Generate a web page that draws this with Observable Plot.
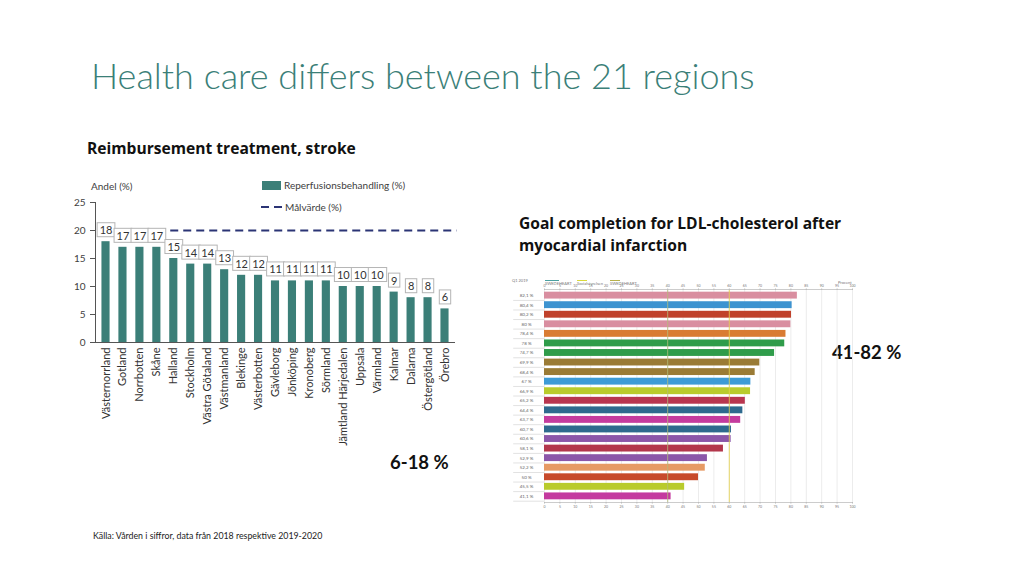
<!DOCTYPE html>
<html>
<head>
<meta charset="utf-8">
<script src="https://cdn.jsdelivr.net/npm/d3@7"></script>
<script src="https://cdn.jsdelivr.net/npm/@observablehq/plot@0.6"></script>
<style>
  html, body { margin: 0; padding: 0; background: #fff; }
  #page { position: relative; width: 1024px; height: 576px; overflow: hidden; background: #fff; font-family: Lato, "Open Sans", sans-serif; }
  .abs { position: absolute; white-space: nowrap; line-height: 1; }
  #title { left: 91px; top: 57px; font-size: 36px; color: #3b7f78; font-weight: 300; }
  .sub { font-family: "Open Sans", sans-serif; font-size: 15.6px; font-weight: 700; color: #111; }
  .big { font-size: 18.5px; font-weight: 700; color: #111; }
  #caption { left: 93px; top: 532px; font-size: 8.8px; color: #222; }
  .tiny { font-size: 4px; color: #777; }
  .leg { font-size: 10px; color: #404040; }
</style>
</head>
<body>
<div id="page">
  <div id="title" class="abs">Health care differs between the 21 regions</div>
  <div class="abs sub" style="left:87px; top:141px;">Reimbursement treatment, stroke</div>
  <div class="abs leg" style="left:91px; top:181px;">Andel (%)</div>
  <div class="abs leg" style="left:262px; top:180px;"><svg width="19" height="9" style="vertical-align:-1px;margin-right:3px"><rect width="19" height="9" fill="#3b7f78"/></svg>Reperfusionsbehandling (%)</div>
  <div class="abs leg" style="left:261px; top:202px;"><svg width="21" height="6" style="vertical-align:1px;margin-right:3px"><line x1="0" x2="21" y1="3" y2="3" stroke="#2b3475" stroke-width="2" stroke-dasharray="8,5"/></svg>Målvärde (%)</div>
  <div class="abs sub" style="left:519px; top:212px; line-height:22px;">Goal completion for LDL-cholesterol after<br>myocardial infarction</div>
  <div class="abs big" style="left:390px; top:453px;">6-18 %</div>
  <div class="abs big" style="left:832px; top:343px;">41-82 %</div>
  <div id="caption" class="abs">Källa: Vården i siffror, data från 2018 respektive 2019-2020</div>
  <div class="abs tiny" style="left:512px; top:279px;">Q1 2019</div>
  <div class="abs tiny" style="left:545px; top:280px;"><div style="width:14px;height:1px;background:#4aa0a0;margin-bottom:1px"></div>SWEDEHEART</div>
  <div class="abs tiny" style="left:577px; top:280px;"><div style="width:10px;height:1px;background:#d9d83a;margin-bottom:1px"></div>Socialstyrelsen</div>
  <div class="abs tiny" style="left:610px; top:280px;"><div style="width:10px;height:1px;background:#b7b04a;margin-bottom:1px"></div>SWEDEHEART</div>
  <div class="abs tiny" style="left:838px; top:281px;">Procent</div>
  <div id="left" style="position:absolute; left:60px; top:170px;"></div>
  <div id="right" style="position:absolute; left:505px; top:270px;"></div>
</div>
<script>
// ---- Left chart data: Reperfusionsbehandling (%) per region ----
const regions = ["Västernorrland","Gotland","Norrbotten","Skåne","Halland","Stockholm","Västra Götaland","Västmanland","Blekinge","Västerbotten","Gävleborg","Jönköping","Kronoberg","Sörmland","Jämtland Härjedalen","Uppsala","Värmland","Kalmar","Dalarna","Östergötland","Örebro"];
const reperfusion = [18,17,17,17,15,14,14,13,12,12,11,11,11,11,10,10,10,9,8,8,6];
const targetValue = 20;
const yTicks = [0,5,10,15,20,25];

// ---- Right chart data: LDL goal completion (%) ----
const ldlLabels = ["82,1 %","80,4 %","80,2 %","80 %","78,4 %","78 %","74,7 %","69,9 %","68,4 %","67 %","66,9 %","65,2 %","64,4 %","63,7 %","60,7 %","60,6 %","58,1 %","52,9 %","52,2 %","50 %","45,5 %","41,1 %"];
const ldlValues = [82.1,80.4,80.2,80,78.4,78,74.7,69.9,68.4,67,66.9,65.2,64.4,63.7,60.7,60.6,58.1,52.9,52.2,50,45.5,41.1];
const ldlColors = ["#d98ea0","#3d93d0","#c0412b","#d98ea0","#d97c33","#2f9c4a","#2f9c4a","#9a7b35","#9a7b35","#3d9bd6","#b9cb2c","#b8364f","#2e6a8e","#c43c9e","#2e6a8e","#8b57a9","#b3374c","#8b57a9","#e69a64","#c74a2b","#b9cb2c","#c43a9f"];
const ldlTicks = [0,5,10,15,20,25,30,35,40,45,50,55,60,65,70,75,80,85,90,95,100];
const ldlTargets = [40, 60];
const ldlTargetColors = ["#b3bd7a", "#e6d24a"];

const leftData = regions.map((r, i) => ({region: r, value: reperfusion[i]}));
const rightData = ldlLabels.map((l, i) => ({label: l, value: ldlValues[i], color: ldlColors[i]}));

const leftPlot = Plot.plot({
  width: 410, height: 290,
  marginLeft: 35, marginRight: 15, marginTop: 32, marginBottom: 118,
  style: {fontFamily: "Lato, 'Open Sans', sans-serif", fontSize: "10px", color: "#404040", background: "transparent", overflow: "visible"},
  x: {domain: regions, paddingInner: 0.52, paddingOuter: 0.38, round: false, label: null},
  y: {domain: [0, 25], label: null},
  marks: [
    Plot.barY(leftData, {x: "region", y: "value", fill: "#3b7f78"}),
    Plot.ruleY([{y: targetValue, a: regions[4], b: regions[regions.length - 1]}], {y: "y", x1: "a", x2: "b", stroke: "#2b3475", strokeWidth: 2, strokeDasharray: "8,5", insetLeft: 1, insetRight: -8}),
    Plot.ruleY([0], {stroke: "#555"}),
    Plot.frame({anchor: "left", stroke: "#555"}),
    Plot.axisY({ticks: yTicks, tickSize: 5, tickPadding: 5, fontSize: 10, label: null, stroke: "#555"}),
    Plot.axisX({tickSize: 0, tickPadding: 5, tickRotate: -90, fontSize: 11, label: null, fill: "#333"}),
    Plot.text(leftData, {x: "region", y: "value", text: d => String(d.value), dy: -11, fontSize: 11, fill: "#333", className: "vlabel"})
  ]
});
document.getElementById("left").appendChild(leftPlot);

// draw boxes behind value labels
leftPlot.querySelectorAll("g.vlabel text").forEach(t => {
  const bb = t.getBBox();
  const r = document.createElementNS("http://www.w3.org/2000/svg", "rect");
  r.setAttribute("x", bb.x - 2.5);
  r.setAttribute("y", bb.y - 0.5);
  r.setAttribute("width", bb.width + 5);
  r.setAttribute("height", bb.height + 1);
  r.setAttribute("fill", "#fff");
  r.setAttribute("stroke", "#b5b5b5");
  r.setAttribute("stroke-width", "1");
  const tr = t.getAttribute("transform");
  if (tr) r.setAttribute("transform", tr);
  t.parentNode.insertBefore(r, t);
});

const rightPlot = Plot.plot({
  width: 360, height: 240,
  marginLeft: 39, marginRight: 13, marginTop: 19, marginBottom: 8,
  style: {fontFamily: "Lato, 'Open Sans', sans-serif", fontSize: "4px", color: "#777", background: "transparent", overflow: "visible"},
  x: {domain: [0, 100], label: null},
  y: {domain: ldlLabels, padding: 0.28, round: false, label: null},
  marks: [
    Plot.gridX(ldlTicks, {stroke: "#ececec", strokeOpacity: 1}),
    Plot.ruleY(ldlLabels, {x1: -10, x2: 0, dy: 4.8, stroke: "#e2e2e2"}),
    Plot.barX(rightData, {x: "value", y: "label", fill: "color"}),
    Plot.ruleX(ldlTargets, {x: d => d, stroke: (d, i) => ldlTargetColors[i], strokeOpacity: 0.8}),
    Plot.frame({anchor: "top", stroke: "#ccc"}),
    Plot.frame({anchor: "bottom", stroke: "#ccc"}),
    Plot.axisX({anchor: "top", ticks: ldlTicks, tickSize: 1.5, tickPadding: 1, fontSize: 3.5, label: null, stroke: "#bbb", tickFormat: d => d}),
    Plot.axisX({anchor: "bottom", ticks: ldlTicks, tickSize: 1.5, tickPadding: 1, fontSize: 3.5, label: null, stroke: "#bbb", tickFormat: d => d}),
    Plot.axisY({tickSize: 0, tickPadding: 18, textAnchor: "middle", fontSize: 4.5, fill: "#666", label: null})
  ]
});
document.getElementById("right").appendChild(rightPlot);
</script>
</body>
</html>
